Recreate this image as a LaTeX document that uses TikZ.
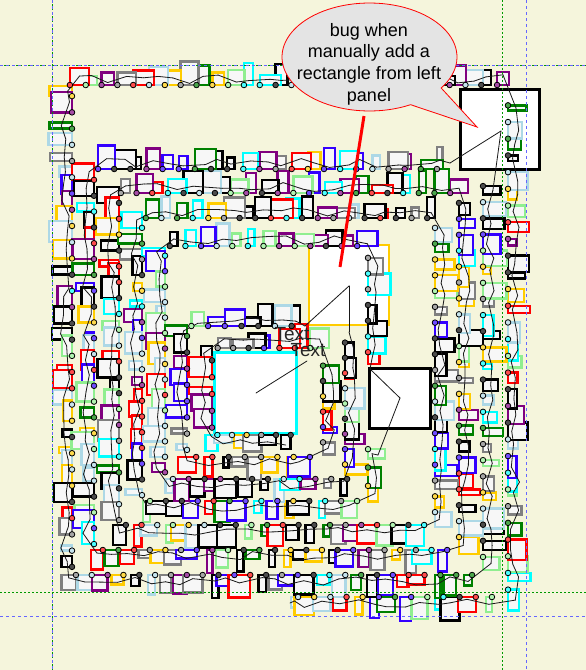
\documentclass[tikz,border=0pt]{standalone}
\usepackage{fontspec}
\setmainfont{Liberation Sans}
\definecolor{bgc}{HTML}{F5F5DC}
\definecolor{elfill}{HTML}{F7F7F7}
\definecolor{cblack}{HTML}{000000}
\definecolor{cgray}{HTML}{808080}
\definecolor{clblue}{HTML}{ADD8E6}
\definecolor{ccyan}{HTML}{00FFFF}
\definecolor{cyellow}{HTML}{FFCC00}
\definecolor{cgreen}{HTML}{008000}
\definecolor{clgreen}{HTML}{90EE90}
\definecolor{cpurple}{HTML}{800080}
\definecolor{cblue}{HTML}{3300FF}
\definecolor{cred}{HTML}{FF0000}
\definecolor{callfill}{HTML}{E4E4E4}
\definecolor{gguide}{HTML}{009900}
\definecolor{bguide}{HTML}{6666FF}
\pgfmathdeclarerandomlist{cols}{{cblack}{cblack}{cgray}{clblue}{ccyan}{cyellow}{cgreen}{clgreen}{cpurple}{cblue}{cred}}
\tikzset{
  el/.style={draw=#1, fill=elfill, line width=2.4pt},
  dotc/.style={draw=black, fill=#1!70!white, line width=0.8pt},
  wave/.style={draw=black!90, line width=0.8pt, line cap=round, line join=round},
  bigbox/.style={draw=#1, fill=white, line width=3pt},
  gline/.style={draw=gguide, line width=1pt, dash pattern=on 2pt off 2pt},
  bline/.style={draw=bguide, line width=1pt, dash pattern=on 3pt off 3pt},
  tlabel/.style={font=\fontsize{19}{21}\selectfont, text=black!85, inner sep=0pt},
}
\def\passmode{1}
\newcommand\mylpt[2]{%
  \ifnum\passmode=2 \draw[wave] (\mypx,\mypy) -- (#1,#2);\fi
  \xdef\mypx{#1}\xdef\mypy{#2}}
\newcommand\segtypet{%
  \ifcase\passmode\or
    \draw[el=\rc] (\ax,\ay+6) rectangle ++(\pa,-\pp);
  \or
    \pgfmathsetmacro\lx{\ax+\pa/2}\pgfmathsetmacro\ly{\ay+\jit}\mylpt{\lx}{\ly}
  \or
    \draw[dotc=\rc] (\ax,\ay+6) circle[radius=2.8pt];
  \fi}
\newcommand\segtypeb{%
  \ifcase\passmode\or
    \draw[el=\rc] (\ax,\ay-6) rectangle ++(-\pa,\pp);
  \or
    \pgfmathsetmacro\lx{\ax-\pa/2}\pgfmathsetmacro\ly{\ay+\jit}\mylpt{\lx}{\ly}
  \or
    \draw[dotc=\rc] (\ax,\ay-6) circle[radius=2.8pt];
  \fi}
\newcommand\segtypel{%
  \ifcase\passmode\or
    \draw[el=\rc] (\ax+7,\ay) rectangle ++(-\pp,-\pa);
  \or
    \pgfmathsetmacro\lx{\ax+\jit}\pgfmathsetmacro\ly{\ay-\pa/2}\mylpt{\lx}{\ly}
  \or
    \draw[dotc=\rc] (\ax+7,\ay) circle[radius=2.8pt];
  \fi}
\newcommand\segtyper{%
  \ifcase\passmode\or
    \draw[el=\rc] (\ax-7,\ay) rectangle ++(\pp,\pa);
  \or
    \pgfmathsetmacro\lx{\ax+\jit}\pgfmathsetmacro\ly{\ay+\pa/2}\mylpt{\lx}{\ly}
  \or
    \draw[dotc=\rc] (\ax-7,\ay) circle[radius=2.8pt];
  \fi}
\newcommand\seg[6]{%
  \foreach \i in {1,...,#6}{%
    \pgfmathsetmacro\ax{#2+(\i-0.5)/#6*((#4)-(#2))}%
    \pgfmathsetmacro\ay{#3+(\i-0.5)/#6*((#5)-(#3))}%
    \pgfmathrandomitem\rc{cols}%
    \pgfmathsetmacro\pa{5+rnd*17}%
    \pgfmathsetmacro\pp{8+rnd*16}%
    \pgfmathsetmacro\jit{rand*4.5}%
    \csname segtype#1\endcsname
  }}
\newcommand\runspiral{%
  \pgfmathsetseed{7}%
  \xdef\mypx{290}\xdef\mypy{603}%
  \seg{b}{290}{603}{500}{603}{13}
  \seg{r}{515}{598}{515}{97}{30}
  \seg{t}{505}{79}{62}{79}{28}
  \seg{l}{65}{88}{65}{575}{30}
  \seg{b}{68}{581}{480}{581}{26}
  \seg{r}{490}{565}{490}{178}{24}
  \mylpt{501}{131}\mylpt{450}{163}
  \seg{t}{445}{163}{90}{163}{22}
  \seg{l}{87}{172}{87}{552}{24}
  \seg{b}{95}{556}{455}{556}{23}
  \seg{r}{466}{545}{466}{195}{22}
  \seg{t}{458}{187}{113}{187}{22}
  \seg{l}{112}{195}{112}{528}{21}
  \seg{b}{118}{531}{432}{531}{20}
  \seg{r}{442}{520}{442}{220}{19}
  \seg{t}{435}{212}{138}{212}{19}
  \seg{l}{135}{220}{135}{503}{18}
  \seg{b}{142}{507}{365}{507}{14}
  \seg{r}{375}{495}{375}{440}{3}
  \mylpt{378}{455}\mylpt{400}{398}\mylpt{370}{369}
  \seg{r}{375}{360}{375}{250}{7}
  \seg{t}{365}{240}{162}{240}{13}
  \seg{l}{158}{248}{158}{480}{15}
  \seg{b}{165}{485}{355}{485}{12}
  \seg{r}{352}{472}{352}{335}{9}
  \mylpt{349}{332}\mylpt{349}{286}\mylpt{305}{326}
  \seg{t}{300}{320}{183}{320}{7}
  \seg{l}{180}{328}{180}{458}{8}
  \seg{b}{188}{463}{318}{463}{8}
  \seg{r}{330}{450}{330}{358}{6}
  \seg{t}{318}{342}{210}{342}{7}
  \seg{l}{205}{352}{205}{436}{5}
  \seg{b}{210}{441}{298}{441}{6}
}
\begin{document}
\begin{tikzpicture}[x=1pt,y=-1pt]
\useasboundingbox (0,0) rectangle (586,670);
\fill[bgc] (0,0) rectangle (586,670);
% big boxes
\draw[bigbox=black] (460,89) rectangle (539,169);
\draw[bigbox=cyellow, line width=2.2pt] (309,245) rectangle (389,325);
\draw[bigbox=ccyan] (214,352) rectangle (296,433);
\draw[bigbox=black] (369,368) rectangle (430,428);
% pass 1: boxes
\def\passmode{1}\runspiral
% guides
\draw[gline] (52,0) -- (52,670);
\draw[bline] (52,0) -- (52,670);
\draw[gline] (0,65) -- (586,65);
\draw[bline] (0,65) -- (586,65);
\draw[gline] (502,0) -- (502,670);
\draw[bline] (526,0) -- (526,670);
\draw[gline] (0,592) -- (586,592);
\draw[bline] (0,616) -- (586,616);
\draw[wave] (256,393) -- (307,361);
% pass 2: connectors
\def\passmode{2}\runspiral
% pass 3: ports
\def\passmode{3}\runspiral
% front
\node[tlabel] (t1) at (292,334) {Text};
\node[tlabel] (t2) at (308,350) {Text};
\draw[draw=red, line width=3pt] (364,116) -- (340,267);
\filldraw[draw=red, fill=callfill, line width=0.8pt]
  plot[domain=62:395, samples=90] ({369.5+87.5*cos(\x)},{57+54*sin(\x)}) -- (477,127) -- cycle;
\node[align=center, font=\fontsize{18}{21.7}\selectfont, inner sep=0pt] (call) at (369,64)
  {bug when\\manually add a\\rectangle from left\\panel};
\end{tikzpicture}
\end{document}
